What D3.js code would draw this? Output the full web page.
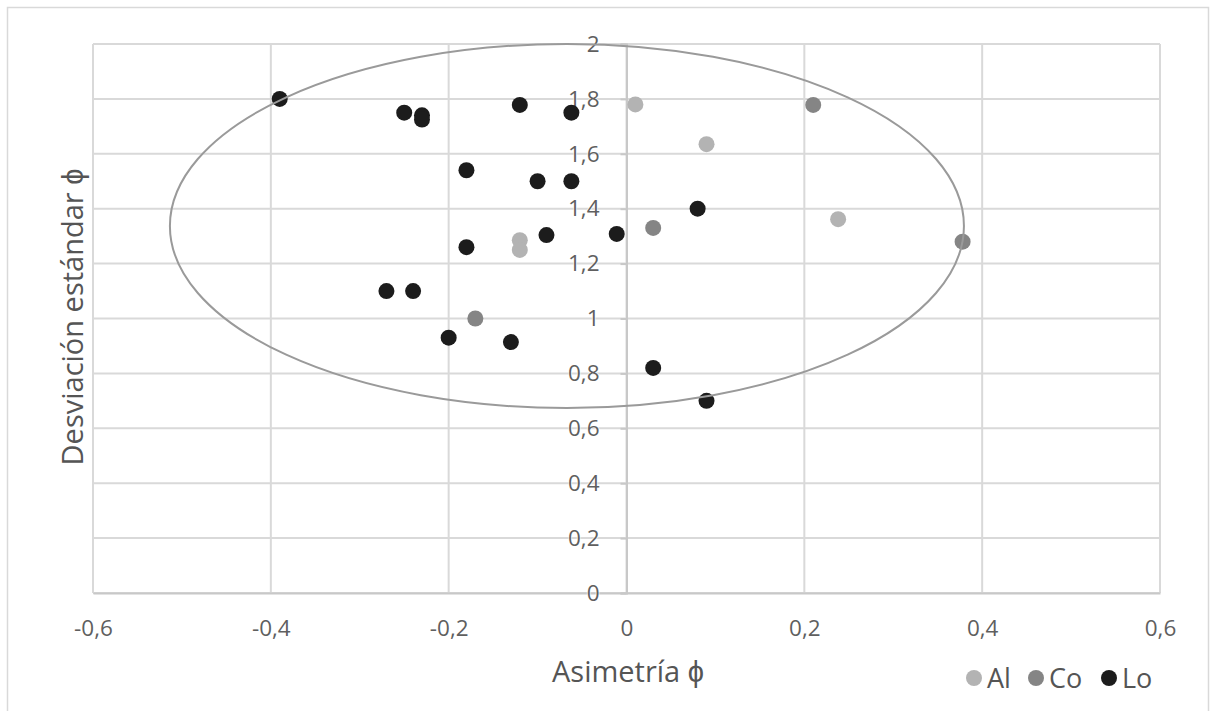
<!DOCTYPE html>
<html>
<head>
<meta charset="utf-8">
<script src="https://cdn.jsdelivr.net/npm/d3@7"></script>
<style>
  body { margin: 0; background: #fff; }
  text { font-family: "Open Sans", "Liberation Sans", sans-serif; }
</style>
</head>
<body>
<div id="chart"></div>
<script>
// series values
var seriesNames = ["Al", "Co", "Lo"];
var seriesColors = ["#b3b3b3", "#858585", "#1c1c1c"];

var alX = [0.01, 0.09, 0.238, -0.12, -0.12];
var alY = [1.78, 1.635, 1.362, 1.285, 1.25];

var coX = [0.21, 0.03, 0.378, -0.17];
var coY = [1.778, 1.33, 1.28, 1.0];

var loX = [-0.39, -0.25, -0.23, -0.23, -0.12, -0.062, -0.18, -0.10, -0.062, 0.08, -0.09, -0.011, -0.18, -0.27, -0.24, -0.20, -0.13, 0.03, 0.09];
var loY = [1.80, 1.75, 1.74, 1.725, 1.778, 1.75, 1.54, 1.50, 1.50, 1.40, 1.304, 1.308, 1.26, 1.10, 1.10, 0.93, 0.914, 0.82, 0.70];

var xTicks = [-0.6, -0.4, -0.2, 0, 0.2, 0.4, 0.6];
var yTicks = [0, 0.2, 0.4, 0.6, 0.8, 1, 1.2, 1.4, 1.6, 1.8, 2];

// ellipse around the points, in data units
var ellipse = {cx: -0.067, cy: 1.337, rx: 0.4465, ry: 0.663};

var fullW = 1210, fullH = 711;
var margin = {top: 44, right: 50, bottom: 118, left: 93};
var width = 1160 - margin.left;
var height = 593 - margin.top;

var svg = d3.select("#chart").append("svg")
    .attr("width", fullW).attr("height", fullH);

// outer chart frame
svg.append("rect").attr("x", 7.5).attr("y", 7.5)
    .attr("width", fullW - 9).attr("height", fullH)
    .attr("fill", "none").attr("stroke", "#d9d9d9").attr("stroke-width", 1.5);

var g = svg.append("g").attr("transform", "translate(" + margin.left + "," + margin.top + ")");

var x = d3.scaleLinear().domain([-0.6, 0.6]).range([0, width]);
var y = d3.scaleLinear().domain([0, 2]).range([height, 0]);

var fmt = function (d) { return String(d).replace(".", ","); };

// gridlines
g.append("g").selectAll("line").data(xTicks).enter().append("line")
    .attr("x1", function (d) { return x(d); }).attr("x2", function (d) { return x(d); })
    .attr("y1", 0).attr("y2", height)
    .attr("stroke", "#d9d9d9").attr("stroke-width", 2);
g.append("g").selectAll("line").data(yTicks).enter().append("line")
    .attr("x1", 0).attr("x2", width)
    .attr("y1", function (d) { return y(d); }).attr("y2", function (d) { return y(d); })
    .attr("stroke", "#d9d9d9").attr("stroke-width", 2);

// x axis at y = 0
var xAxis = g.append("g").attr("transform", "translate(0," + height + ")")
    .call(d3.axisBottom(x).tickValues(xTicks).tickFormat(fmt).tickSize(0).tickPadding(27));
xAxis.select(".domain").attr("stroke", "#c8c8c8").attr("stroke-width", 2);

// y axis crossing at x = 0
var yAxis = g.append("g").attr("transform", "translate(" + x(0) + ",0)")
    .call(d3.axisLeft(y).tickValues(yTicks).tickFormat(fmt).tickSize(6).tickPadding(21));
yAxis.select(".domain").attr("stroke", "#c8c8c8").attr("stroke-width", 2);
yAxis.selectAll(".tick line").attr("stroke", "#c8c8c8").attr("stroke-width", 2);

g.selectAll(".tick text")
    .attr("fill", "#5f5f5f").style("font-size", "22.5px")
    .attr("stroke", "#fff").attr("stroke-width", 2).attr("stroke-opacity", 0.6)
    .attr("paint-order", "stroke");

// points
var series = [
    {name: seriesNames[0], xs: alX, ys: alY, color: seriesColors[0]},
    {name: seriesNames[1], xs: coX, ys: coY, color: seriesColors[1]},
    {name: seriesNames[2], xs: loX, ys: loY, color: seriesColors[2]}
];
series.forEach(function (s) {
    var pts = s.xs.map(function (v, i) { return [v, s.ys[i]]; });
    g.append("g").selectAll("circle").data(pts).enter().append("circle")
        .attr("cx", function (d) { return x(d[0]); })
        .attr("cy", function (d) { return y(d[1]); })
        .attr("r", 8)
        .attr("fill", s.color);
});

// ellipse drawn over the points
g.append("ellipse")
    .attr("cx", x(ellipse.cx)).attr("cy", y(ellipse.cy))
    .attr("rx", x(ellipse.cx + ellipse.rx) - x(ellipse.cx))
    .attr("ry", y(ellipse.cy - ellipse.ry) - y(ellipse.cy))
    .attr("fill", "none").attr("stroke", "#9a9a9a").attr("stroke-width", 2);

// axis titles
svg.append("text").attr("x", 628).attr("y", 682)
    .attr("text-anchor", "middle").attr("fill", "#555").style("font-size", "29px")
    .text("Asimetría ϕ");
svg.append("text").attr("transform", "translate(83,317) rotate(-90)")
    .attr("text-anchor", "middle").attr("fill", "#555").style("font-size", "29px")
    .text("Desviación estándar ϕ");

// legend
var legendX = [974, 1036, 1109];
var legend = svg.selectAll(".legend").data(series).enter().append("g").attr("class", "legend")
    .attr("transform", function (d, i) { return "translate(" + legendX[i] + ",678)"; });
legend.append("circle").attr("r", 8).attr("fill", function (d) { return d.color; });
legend.append("text").attr("x", 13).attr("dy", "0.36em")
    .attr("fill", "#555").style("font-size", "27px")
    .text(function (d) { return d.name; });
</script>
</body>
</html>
